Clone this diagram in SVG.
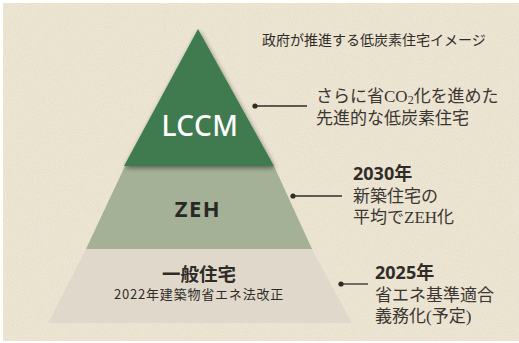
<svg xmlns="http://www.w3.org/2000/svg" width="519" height="343" viewBox="0 0 519 343">
<style>
.jp{font-family:"Noto Sans CJK JP","Noto Sans",sans-serif;fill:#2f2c28}
.lbl{font-family:"Liberation Serif","Noto Sans CJK JP",serif;font-size:17px;fill:#3a3632}
.yr{font-family:"Noto Sans","Noto Sans CJK JP",sans-serif;font-size:18px;font-weight:700;fill:#2f2c28}
.ln{stroke:#2f2c28;stroke-width:1.3;fill:none}
.dot{fill:#2f2c28}
</style>
<defs>
<filter id="grain" x="0" y="0" width="100%" height="100%">
<feTurbulence type="fractalNoise" baseFrequency="0.9" numOctaves="2" seed="3" result="n"/>
<feColorMatrix in="n" type="matrix" values="0 0 0 0 0.55  0 0 0 0 0.48  0 0 0 0 0.35  0 0 0 0.35 -0.08"/>
</filter>
<filter id="sh" x="-20%" y="-20%" width="140%" height="140%">
<feGaussianBlur in="SourceAlpha" stdDeviation="2.5"/>
<feOffset dx="1" dy="2"/>
<feComponentTransfer><feFuncA type="linear" slope="0.45"/></feComponentTransfer>
<feMerge><feMergeNode/><feMergeNode in="SourceGraphic"/></feMerge>
</filter>
</defs>
<rect x="0" y="0" width="519" height="343" fill="#ffffff"/>
<rect x="3" y="3" width="516" height="338" fill="#efe8d6"/>
<rect x="3" y="3" width="516" height="338" filter="url(#grain)"/>

<g id="tier-bottom">
<polygon points="86,249 312,249 352,323 48,323" fill="#e0d9cb"/>
<text class="jp" x="199" y="281" font-size="18.5" font-weight="700" text-anchor="middle">一般住宅</text>
<text class="jp" x="199" y="299" font-size="13" letter-spacing="0.8" text-anchor="middle">2022年建築物省エネ法改正</text>
</g>
<g id="tier-middle">
<polygon points="125,166 274,166 312,249 86,249" fill="#a4b197"/>
<text x="198" y="217" font-family="Noto Sans, sans-serif" font-size="22" font-weight="700" letter-spacing="1.5" fill="#2a2825" text-anchor="middle">ZEH</text>
</g>
<g id="tier-top">
<polygon points="198,29 274,166 124,166" fill="#3f7a50" filter="url(#sh)"/>
<text x="200" y="136" font-family="Noto Sans, sans-serif" font-size="28" font-weight="500" letter-spacing="0.5" fill="#ffffff" text-anchor="middle">LCCM</text>
</g>

<g id="title">
<text class="jp" x="262" y="45" font-size="14" fill="#333">政府が推進する低炭素住宅イメージ</text>
</g>

<g id="connectors">
<circle class="dot" cx="255" cy="106" r="2.6"/>
<line class="ln" x1="255" y1="106" x2="307" y2="106"/>
<circle class="dot" cx="293" cy="196" r="2.6"/>
<line class="ln" x1="293" y1="196" x2="342" y2="196"/>
<circle class="dot" cx="341" cy="284" r="2.6"/>
<line class="ln" x1="341" y1="284" x2="368" y2="284"/>
</g>

<g id="label-lccm">
<text class="lbl" x="316" y="102">さらに省CO<tspan font-size="12" dy="2">2</tspan><tspan dy="-2">化を進めた</tspan></text>
<text class="lbl" x="316" y="124">先進的な低炭素住宅</text>
</g>
<g id="label-zeh">
<text class="yr" x="353" y="180">2030年</text>
<text class="lbl" x="353" y="202">新築住宅の</text>
<text class="lbl" x="353" y="223">平均でZEH化</text>
</g>
<g id="label-general">
<text class="yr" x="375" y="279">2025年</text>
<text class="lbl" x="375" y="301">省エネ基準適合</text>
<text class="lbl" x="375" y="322">義務化(予定)</text>
</g>
</svg>
